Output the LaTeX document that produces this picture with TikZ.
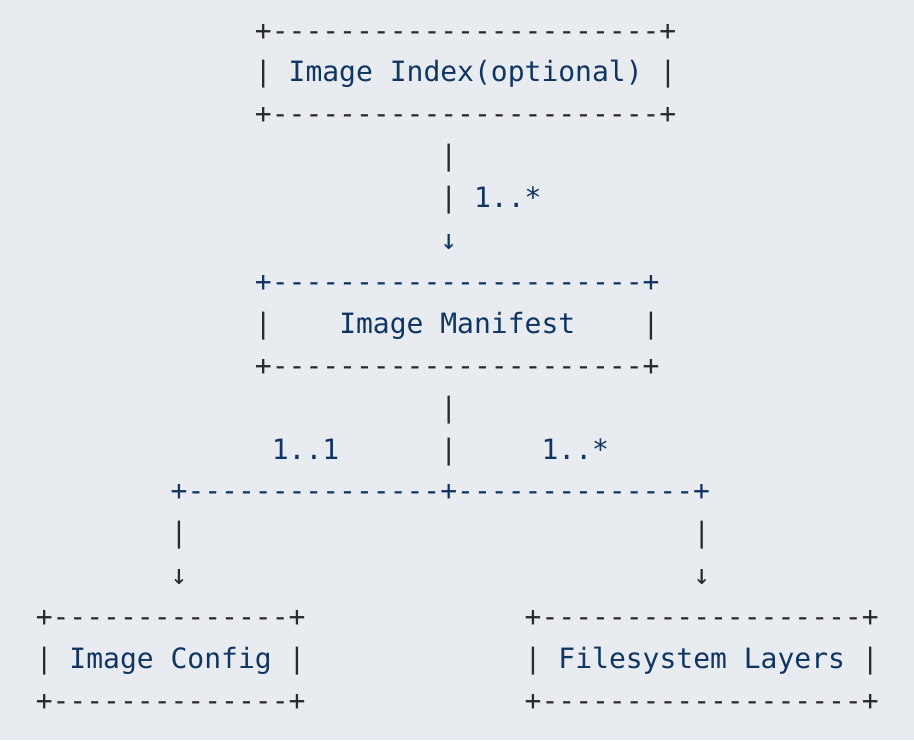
\documentclass[tikz,border=0pt]{standalone}
\usepackage{fontspec}
\setmonofont{DejaVu Sans Mono}

\definecolor{paper}{HTML}{E8ECF0}
\definecolor{ink}{HTML}{2A2A2A}
\definecolor{navy}{HTML}{103563}

\begin{document}
\begin{tikzpicture}[x=16.86pt,y=-41.9pt,
        every node/.style={inner sep=0pt,anchor=base west,yshift=-10pt,
                           font=\ttfamily\fontsize{28}{34}\selectfont},
        frame part/.style={text=ink},
        name part/.style={text=navy}]

    \fill[paper] (-44pt,30pt) rectangle (870pt,-710pt);
    \useasboundingbox (-44pt,30pt) rectangle (870pt,-710pt);

    % image index
    \node[frame part] (idx top) at (12.5,0) {+-----------------------+};
    \node[frame part] (idx left) at (12.5,1) {|};
    \node[name part] (idx) at (14.5,1) {Image Index(optional)};
    \node[frame part] (idx right) at (36.5,1) {|};
    \node[frame part] (idx bottom) at (12.5,2) {+-----------------------+};

    \node[frame part] (idx bar a) at (23.5,3) {|};
    \node[frame part] (idx bar b) at (23.5,4) {|};
    \node[name part] (idx mult) at (25.5,4) {1..*};
    \node[name part] (idx arrow) at (23.5,5) {↓};

    % image manifest
    \node[name part] (man top) at (12.5,6) {+----------------------+};
    \node[frame part] (man left) at (12.5,7) {|};
    \node[name part] (man) at (17.5,7) {Image Manifest};
    \node[frame part] (man right) at (35.5,7) {|};
    \node[frame part] (man bottom) at (12.5,8) {+----------------------+};

    \node[frame part] (man bar a) at (23.5,9) {|};
    \node[frame part] (man bar b) at (23.5,10) {|};
    \node[name part] (cfg mult) at (13.5,10) {1..1};
    \node[name part] (lay mult) at (29.5,10) {1..*};
    \node[name part] (branch) at (7.5,11) {+---------------+--------------+};

    \node[frame part] (cfg bar) at (7.5,12) {|};
    \node[frame part] (cfg arrow) at (7.5,13) {↓};
    \node[frame part] (lay bar) at (38.5,12) {|};
    \node[frame part] (lay arrow) at (38.5,13) {↓};

    % image config
    \node[frame part] (cfg top) at (-0.5,14) {+--------------+};
    \node[frame part] (cfg left) at (-0.5,15) {|};
    \node[name part] (cfg) at (1.5,15) {Image Config};
    \node[frame part] (cfg right) at (14.5,15) {|};
    \node[frame part] (cfg bottom) at (-0.5,16) {+--------------+};

    % filesystem layers
    \node[frame part] (lay top) at (28.5,14) {+-------------------+};
    \node[frame part] (lay left) at (28.5,15) {|};
    \node[name part] (lay) at (30.5,15) {Filesystem Layers};
    \node[frame part] (lay right) at (48.5,15) {|};
    \node[frame part] (lay bottom) at (28.5,16) {+-------------------+};

\end{tikzpicture}
\end{document}
